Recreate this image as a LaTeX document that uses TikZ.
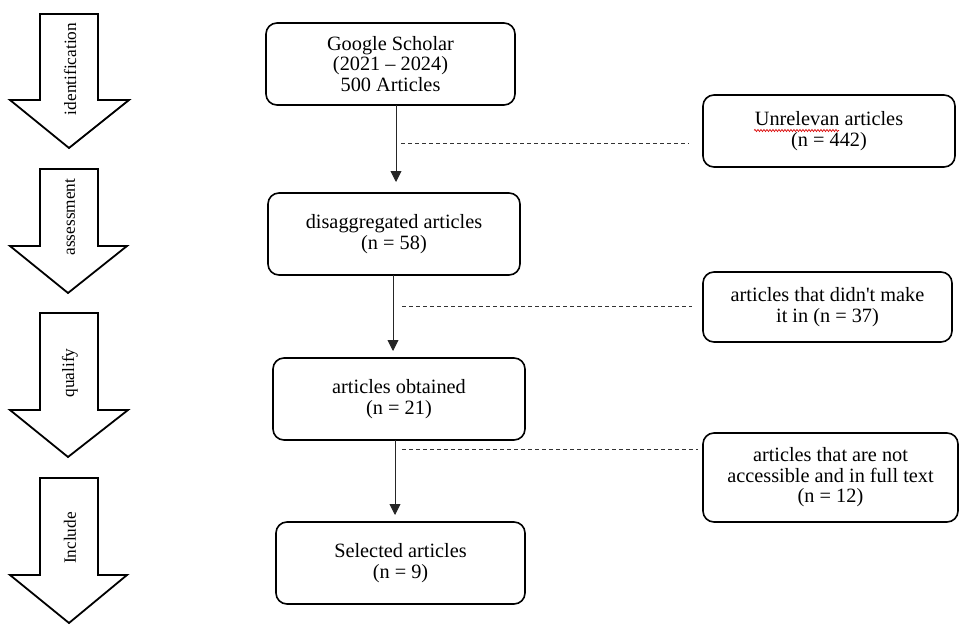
\documentclass[tikz,border=0pt]{standalone}
\usepackage{fontspec}
\setmainfont{Liberation Serif}
\usetikzlibrary{arrows.meta,decorations.pathmorphing}
\begin{document}
\begin{tikzpicture}[x=1pt,y=-1pt,
  box/.style={draw=black,line width=1.6pt,rounded corners=11pt,align=center,
    font=\fontsize{20.3}{20.5}\selectfont,inner sep=0pt},
  phase/.style={draw=black,line width=1.8pt,fill=white,line join=miter},
  phaselabel/.style={rotate=90,font=\fontsize{17.3}{17}\selectfont,inner sep=0pt},
  flow/.style={line width=0.9pt,draw=black!85,-{Triangle[width=11pt,length=11pt]}},
  skip/.style={line width=0.8pt,draw=black!80,dash pattern=on 4pt off 3pt}]
\useasboundingbox (0,0) rectangle (963,626);
% phase arrows
\draw[phase] (40,14) -- (98,14) -- (98,100) -- (129,100) -- (69,148) -- (10,100) -- (40,100) -- cycle;
\draw[phase] (40,169) -- (98,169) -- (98,246) -- (127,246) -- (68,293) -- (10,246) -- (40,246) -- cycle;
\draw[phase] (40,313) -- (98,313) -- (98,410) -- (128,410) -- (68,457) -- (10,410) -- (40,410) -- cycle;
\draw[phase] (40,478) -- (98,478) -- (98,575) -- (127,575) -- (69,623) -- (10,575) -- (40,575) -- cycle;
\node[phaselabel] (l1) at (70,69) {identification};
\node[phaselabel] (l2) at (70,217) {assessment};
\node[phaselabel] (l3) at (70,373) {qualify};
\node[phaselabel] (l4) at (70,538) {Include};
% main boxes
\node[box,minimum width=249pt,minimum height=82pt] (b1) at (390.5,64) {Google Scholar\\(2021 – 2024)\\500 Articles};
\node[box,minimum width=252pt,minimum height=82pt] (b2) at (394,234) {disaggregated articles\\(n = 58)};
\node[box,minimum width=252pt,minimum height=82pt] (b3) at (399,399) {articles obtained\\(n = 21)};
\node[box,minimum width=249pt,minimum height=82pt] (b4) at (400.5,563) {Selected articles\\(n = 9)};
% side boxes
\node[box,minimum width=252pt,minimum height=72pt] (r1) at (829,131) {Unrelevan articles\\(n = 442)};
\node[box,minimum width=249pt,minimum height=70pt] (r2) at (827.5,307) {articles that didn\textquotesingle t make\\it in (n = 37)};
\node[box,minimum width=255pt,minimum height=89pt] (r3) at (830.5,477.5) {articles that are not\\accessible and in full text\\(n = 12)};
% flow arrows
\coordinate (a1) at (396,105);
\coordinate (e1) at (396,182);
\coordinate (a2) at (393,275);
\coordinate (e2) at (393,351);
\coordinate (a3) at (395,440);
\coordinate (e3) at (395,515);
\draw[flow] (a1) -- (e1);
\draw[flow] (a2) -- (e2);
\draw[flow] (a3) -- (e3);
% dashed exclusions
\coordinate (d1) at (401,143);
\coordinate (d2) at (402,306);
\coordinate (d3) at (402,449);
\draw[skip,shorten >=13pt] (d1) -- (d1 -| r1.west);
\draw[skip,shorten >=10pt] (d2) -- (d2 -| r2.west);
\draw[skip,shorten >=4pt] (d3) -- (d3 -| r3.west);
% spell-check underline
\draw[red!85!black,line width=0.7pt,decorate,decoration={snake,amplitude=1pt,segment length=3pt}] (754,130.5) -- (839,130.5);
\end{tikzpicture}
\end{document}
